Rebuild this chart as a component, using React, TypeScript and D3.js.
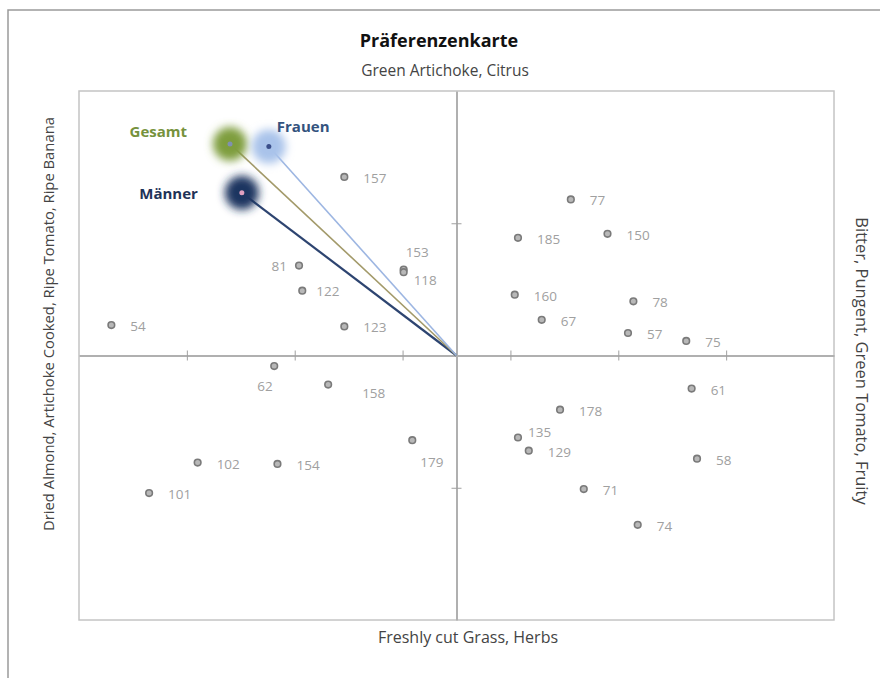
import React, { useEffect, useRef } from 'react';
import * as d3 from 'd3';

// Product ids and their map coordinates
const productIds = ['157', '81', '122', '153', '118', '54', '123',
  '77', '185', '150', '160', '78', '67', '57', '75',
  '62', '158', '179', '102', '154', '101',
  '61', '178', '135', '129', '58', '71', '74'];
const productX = [-1.04, -1.46, -1.43, -0.49, -0.49, -3.2, -1.04,
  1.06, 0.57, 1.4, 0.54, 1.64, 0.79, 1.59, 2.13,
  -1.69, -1.19, -0.41, -2.4, -1.66, -2.85,
  2.18, 0.96, 0.57, 0.67, 2.23, 1.18, 1.68];
const productY = [1.35, 0.68, 0.49, 0.65, 0.63, 0.23, 0.22,
  1.18, 0.89, 0.92, 0.46, 0.41, 0.27, 0.17, 0.11,
  -0.08, -0.22, -0.64, -0.81, -0.82, -1.04,
  -0.25, -0.41, -0.62, -0.72, -0.78, -1.01, -1.28];

// Consumer groups (preference vectors)
const groupNames = ['Männer', 'Gesamt', 'Frauen'];
const groupX = [-1.99, -2.1, -1.74];
const groupY = [1.23, 1.6, 1.58];

const xTicks = [-2.5, -1.5, -0.5, 0.5, 1.5, 2.5];
const yTicks = [-1, 1];

const groupStyle: Record<string, { blob: string; line: string; lw: number; dot: string; text: string; tx: number; ty: number; anchor: string }> = {
  'Gesamt': { blob: '#7e9d3c', line: '#a39a6a', lw: 1.6, dot: '#8090b0', text: '#76923c', tx: -43, ty: -7, anchor: 'end' },
  'Frauen': { blob: '#a9c3ea', line: '#9db6e2', lw: 1.6, dot: '#3a4e8a', text: '#34537e', tx: 8, ty: -15, anchor: 'start' },
  'Männer': { blob: '#1d3560', line: '#2d4470', lw: 2.2, dot: '#e0a0c0', text: '#1f3358', tx: -44, ty: 6, anchor: 'end' },
};

const labelOffsets: Record<string, [number, number, string]> = {
  '81': [-12, 5, 'end'],
  '153': [2, -13, 'start'],
  '118': [10, 13, 'start'],
  '62': [-17, 25, 'start'],
  '158': [34, 13, 'start'],
  '179': [8, 27, 'start'],
  '135': [10, 0, 'start'],
  '122': [14, 5, 'start'],
};

const App: React.FC = () => {
  const svgRef = useRef<SVGSVGElement>(null);

  useEffect(() => {
    const svg = d3.select(svgRef.current);
    svg.selectAll('*').remove();

    const width = 880;
    const height = 678;
    const plot = { left: 79, right: 834, top: 91, bottom: 620 };
    const font = '"Open Sans", "Noto Sans", sans-serif';

    svg.attr('width', width).attr('height', height).style('background', '#fff');

    const defs = svg.append('defs');
    defs.append('filter').attr('id', 'blur').attr('x', '-100%').attr('y', '-100%')
      .attr('width', '300%').attr('height', '300%')
      .append('feGaussianBlur').attr('stdDeviation', 4);

    // outer frame
    svg.append('path')
      .attr('d', `M8,${height} L8,10 L${width},10`)
      .attr('fill', 'none').attr('stroke', '#9a9a9a').attr('stroke-width', 1.5);

    const x = d3.scaleLinear().domain([-3.5, 3.5]).range([plot.left, plot.right]);
    const y = d3.scaleLinear().domain([-2, 2]).range([plot.bottom, plot.top]);

    // plot border
    svg.append('rect')
      .attr('x', plot.left).attr('y', plot.top)
      .attr('width', plot.right - plot.left).attr('height', plot.bottom - plot.top)
      .attr('fill', 'none').attr('stroke', '#c4c4c4').attr('stroke-width', 1.5);

    // axes through origin
    const gx = svg.append('g').attr('transform', `translate(0,${y(0)})`)
      .call(d3.axisBottom(x).tickValues(xTicks).tickSize(0).tickFormat(() => ''));
    gx.select('.domain').attr('stroke', '#b0b0b0').attr('stroke-width', 2);
    gx.selectAll('.tick line').attr('y1', -5).attr('y2', 5).attr('stroke', '#a0a0a0').attr('stroke-width', 1);

    const gy = svg.append('g').attr('transform', `translate(${x(0)},0)`)
      .call(d3.axisLeft(y).tickValues(yTicks).tickSize(0).tickFormat(() => ''));
    gy.select('.domain').attr('stroke', '#b0b0b0').attr('stroke-width', 2);
    gy.selectAll('.tick line').attr('x1', -5).attr('x2', 5).attr('stroke', '#a0a0a0').attr('stroke-width', 1);

    // preference vectors
    const groups = groupNames.map((n, i) => ({ name: n, x: groupX[i], y: groupY[i] }));
    const line = d3.line<[number, number]>().x(d => x(d[0])).y(d => y(d[1]));
    svg.append('g').selectAll('path').data(groups).enter().append('path')
      .attr('d', d => line([[d.x, d.y], [0, 0]]))
      .attr('stroke', d => groupStyle[d.name].line)
      .attr('stroke-width', d => groupStyle[d.name].lw)
      .attr('fill', 'none');

    const gg = svg.append('g');
    gg.selectAll('circle.blob').data(groups).enter().append('circle')
      .attr('class', 'blob')
      .attr('cx', d => x(d.x)).attr('cy', d => y(d.y)).attr('r', 17)
      .attr('fill', d => groupStyle[d.name].blob)
      .attr('filter', 'url(#blur)');
    gg.selectAll('circle.dot').data(groups).enter().append('circle')
      .attr('class', 'dot')
      .attr('cx', d => x(d.x)).attr('cy', d => y(d.y)).attr('r', 2.5)
      .attr('fill', d => groupStyle[d.name].dot);
    gg.selectAll('text').data(groups).enter().append('text')
      .attr('x', d => x(d.x) + groupStyle[d.name].tx)
      .attr('y', d => y(d.y) + groupStyle[d.name].ty)
      .attr('text-anchor', d => groupStyle[d.name].anchor)
      .attr('fill', d => groupStyle[d.name].text)
      .style('font-family', font).style('font-size', '15px').style('font-weight', 700)
      .text(d => d.name);

    // products
    const products = productIds.map((id, i) => ({ id, x: productX[i], y: productY[i] }));
    const pg = svg.append('g');
    pg.selectAll('circle').data(products).enter().append('circle')
      .attr('cx', d => x(d.x)).attr('cy', d => y(d.y)).attr('r', 3.3)
      .attr('fill', '#b8b8b8').attr('stroke', '#7a7a7a').attr('stroke-width', 1.6);
    pg.selectAll('text').data(products).enter().append('text')
      .attr('x', d => x(d.x) + (labelOffsets[d.id] ? labelOffsets[d.id][0] : 19))
      .attr('y', d => y(d.y) + (labelOffsets[d.id] ? labelOffsets[d.id][1] : 6))
      .attr('text-anchor', d => (labelOffsets[d.id] ? labelOffsets[d.id][2] : 'start'))
      .attr('fill', '#a0a0a0')
      .style('font-family', font).style('font-size', '13.5px')
      .text(d => d.id);

    // titles
    svg.append('text').attr('x', 439).attr('y', 47).attr('text-anchor', 'middle')
      .attr('fill', '#111').style('font-family', font).style('font-size', '18px').style('font-weight', 700)
      .text('Präferenzenkarte');
    svg.append('text').attr('x', 445).attr('y', 76).attr('text-anchor', 'middle')
      .attr('fill', '#444').style('font-family', font).style('font-size', '15.5px')
      .text('Green Artichoke, Citrus');
    svg.append('text').attr('x', 468).attr('y', 643).attr('text-anchor', 'middle')
      .attr('fill', '#444').style('font-family', font).style('font-size', '16px')
      .text('Freshly cut Grass, Herbs');
    svg.append('text').attr('transform', `translate(54,324) rotate(-90)`)
      .attr('text-anchor', 'middle')
      .attr('fill', '#444').style('font-family', font).style('font-size', '14.8px')
      .text('Dried Almond, Artichoke Cooked, Ripe Tomato, Ripe Banana');
    svg.append('text').attr('transform', `translate(856,361) rotate(90)`)
      .attr('text-anchor', 'middle')
      .attr('fill', '#444').style('font-family', font).style('font-size', '16.5px')
      .text('Bitter, Pungent, Green Tomato, Fruity');
  }, []);

  return <svg ref={svgRef} style={{ position: 'absolute', left: 0, top: 0 }}></svg>;
};

export default App;
